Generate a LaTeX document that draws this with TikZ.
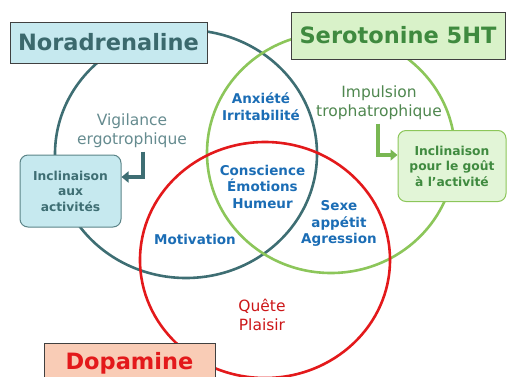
\documentclass[tikz,border=0pt]{standalone}
\usepackage{fontspec}
\setmainfont{DejaVu Sans}
\usetikzlibrary{positioning, arrows.meta}

\definecolor{nora}{HTML}{3E6E73}
\definecolor{sero}{HTML}{8CC65A}
\definecolor{dopa}{HTML}{E3191B}
\definecolor{venn-blue}{HTML}{1B6DB5}
\definecolor{nora-fill}{HTML}{C6E9EF}
\definecolor{sero-fill}{HTML}{D9F2C9}
\definecolor{sero-text}{HTML}{3F8A3F}
\definecolor{dopa-fill}{HTML}{F9CCB6}

\begin{document}
\begin{tikzpicture}[
    x=1pt, y=-1pt,
    venn-line/.style={line width=2.6pt},
    hormone-box/.style={draw=black!75, line width=0.9pt, font=\fontsize{22.5}{26}\selectfont\bfseries, inner sep=0pt},
    incl-box/.style={draw, line width=1pt, rounded corners=8pt, align=center, inner sep=0pt,
      font=\fontsize{12.3}{15.5}\selectfont\bfseries},
    venn-txt/.style={align=center, text=venn-blue, font=\fontsize{13.5}{16.5}\selectfont\bfseries},
    soft-txt/.style={align=center, font=\fontsize{15.5}{19}\selectfont},
    bend-arr/.style={line width=4.5pt, -{Triangle[length=7pt, width=11pt]}}
  ]

  \clip (0,0) rectangle (507,376);

  % the three circles
  \draw[venn-line, nora] (186,154) ellipse (131 and 124);
  \draw[venn-line, sero] (331,153) ellipse (124 and 120);
  \draw[venn-line, dopa] (265,260) ellipse (125 and 118);

  % hormone labels
  \node[hormone-box, fill=nora-fill, text=nora!95!black, minimum width=197pt, minimum height=41pt] (nor) at (108.5,42.5) {Noradrenaline};
  \node[hormone-box, fill=sero-fill, text=sero-text, minimum width=214pt, minimum height=47pt] (ser) at (398,35.5) {Serotonine 5HT};
  \node[hormone-box, fill=dopa-fill, text=dopa, minimum width=171pt, minimum height=40pt] (dop) at (129.5,363) {Dopamine};

  % side boxes
  \node[incl-box, draw=nora!85, fill=nora-fill, text=nora, minimum width=101pt, minimum height=72pt] (inc-nor) at (70.5,191) {Inclinaison\\aux\\activités};
  \node[incl-box, draw=sero, fill=sero-fill!75!white, text=sero-text, minimum width=108pt, minimum height=71pt] (inc-ser) at (452,166) {Inclinaison\\pour le goût\\à l’activité};

  \node[soft-txt, text=nora!80] (vig) at (132,131) {Vigilance\\ergotrophique};
  \node[soft-txt, text=sero-text!75!gray] (imp) at (379,103) {Impulsion\\trophatrophique};

  \coordinate (vig-bend) at (143,177);
  \coordinate (imp-bend) at (378,155);
  \draw[bend-arr, nora] (vig.south -| vig-bend) -- (vig-bend) -- (inc-nor.east |- vig-bend);
  \draw[bend-arr, sero!75!sero-text] (imp.south -| imp-bend) -- (imp-bend) -- (inc-ser.west |- imp-bend);

  % overlap labels
  \node[venn-txt] (anx) at (261,106.5) {Anxiété\\Irritabilité};
  \node[venn-txt] (cons) at (262.5,186.5) {Conscience\\Émotions\\Humeur};
  \node[venn-txt] (sex) at (339,223.5) {Sexe\\appétit\\Agression};
  \node[venn-txt] (mot) at (195,239) {Motivation};
  \node[soft-txt, text=dopa!90!black] (que) at (262,315) {Quête\\Plaisir};

\end{tikzpicture}
\end{document}
